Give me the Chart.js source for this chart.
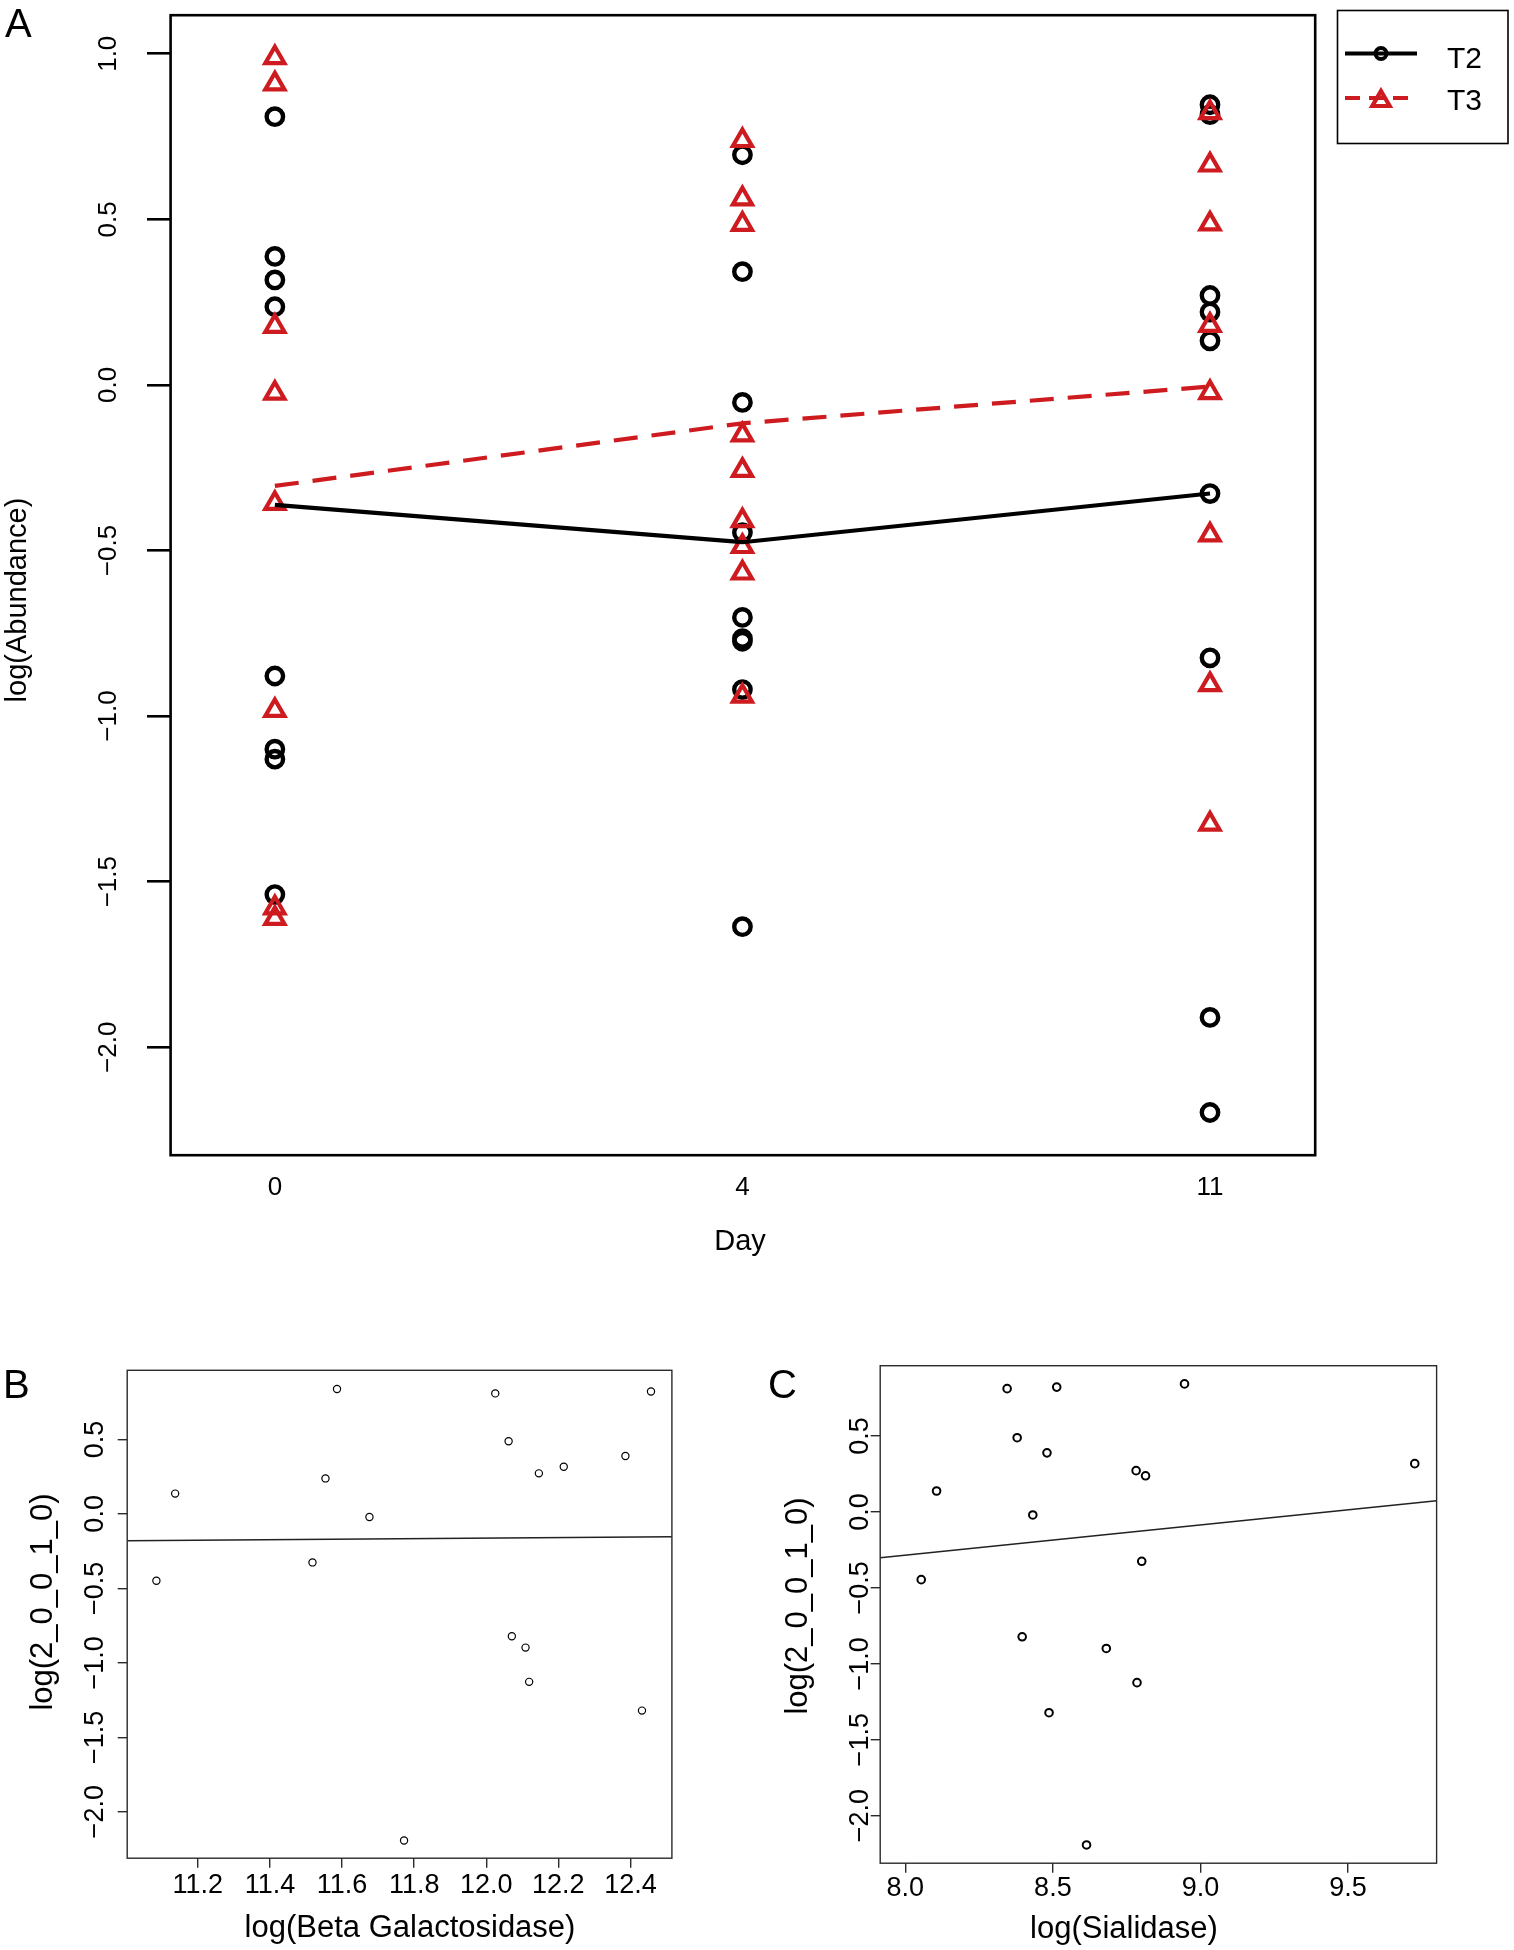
<!DOCTYPE html>
<html>
<head>
<meta charset="utf-8">
<script src="https://cdn.jsdelivr.net/npm/chart.js@4.4.1/dist/chart.umd.min.js"></script>
<style>
  html, body { margin: 0; padding: 0; background: #fff; }
  body { width: 1514px; height: 1950px; position: relative; overflow: hidden; }
  canvas { position: absolute; }
</style>
</head>
<body>
<canvas id="ca" width="1514" height="1300" style="left:0px;top:0px;width:1514px;height:1300px"></canvas>
<canvas id="cb" width="740" height="610" style="left:0px;top:1340px;width:740px;height:610px"></canvas>
<canvas id="cc" width="774" height="610" style="left:740px;top:1340px;width:774px;height:610px"></canvas>
<script>
// ---------- Panel A data ----------
const dayLabels = ['0', '4', '11'];
const dayPositions = [1, 2, 3];
const t2Day0  = [0.810, 0.388, 0.317, 0.236, -0.879, -1.100, -1.130, -1.539];
const t2Day4  = [0.695, 0.342, -0.053, -0.446, -0.702, -0.766, -0.774, -0.920, -1.636];
const t2Day11 = [0.846, 0.816, 0.270, 0.220, 0.133, -0.328, -0.824, -1.910, -2.197];
const t3Day0  = [0.988, 0.909, 0.177, -0.025, -0.358, -0.983, -1.579, -1.611];
const t3Day4  = [0.738, 0.562, 0.485, -0.151, -0.258, -0.410, -0.488, -0.568, -0.940];
const t3Day11 = [0.822, 0.664, 0.486, 0.180, -0.023, -0.453, -0.905, -1.326];
const t2Means = [-0.362, -0.475, -0.328];
const t3Means = [-0.305, -0.116, -0.005];
const seriesNames = ['T2', 'T3'];
const yTicksA = [-2.0, -1.5, -1.0, -0.5, 0.0, 0.5, 1.0];
const yTickLabelsA = ['\u22122.0', '\u22121.5', '\u22121.0', '\u22120.5', '0.0', '0.5', '1.0'];

// ---------- Panel B data ----------
const betaGalactosidase = [11.085, 11.137, 11.518, 11.554, 11.586, 11.676, 11.772, 12.025, 12.062, 12.071, 12.109, 12.119, 12.146, 12.215, 12.386, 12.432, 12.457];
const abundanceB = [-0.449, 0.136, -0.326, 0.238, 0.838, -0.021, -2.193, 0.809, 0.488, -0.822, -0.898, -1.128, 0.272, 0.316, 0.389, -1.321, 0.822];
const fitBx = [11.004, 12.515];
const fitBy = [-0.180, -0.154];
const xTicksB = [11.2, 11.4, 11.6, 11.8, 12.0, 12.2, 12.4];
const xTickLabelsB = ['11.2', '11.4', '11.6', '11.8', '12.0', '12.2', '12.4'];

// ---------- Panel C data ----------
const sialidase = [8.054, 8.106, 8.345, 8.379, 8.396, 8.432, 8.480, 8.487, 8.513, 8.614, 8.681, 8.782, 8.785, 8.801, 8.814, 8.946, 9.726];
const abundanceC = [-0.446, 0.138, 0.812, 0.489, -0.822, -0.020, 0.389, -1.322, 0.822, -2.193, -0.899, 0.272, -1.124, -0.325, 0.238, 0.843, 0.318];
const fitCx = [7.915, 9.800];
const fitCy = [-0.302, 0.074];
const xTicksC = [8.0, 8.5, 9.0, 9.5];
const xTickLabelsC = ['8.0', '8.5', '9.0', '9.5'];

// shared y ticks for B and C
const yTicksBC = [-2.0, -1.5, -1.0, -0.5, 0.0, 0.5];
const yTickLabelsBC = ['\u22122.0', '\u22121.5', '\u22121.0', '\u22120.5', '0.0', '0.5'];

const FONT = '"Liberation Sans", Arimo, Arial, sans-serif';
const RED = '#CD1B1F';

function rotText(ctx, txt, x, y) {
  ctx.save();
  ctx.translate(x, y);
  ctx.rotate(-Math.PI / 2);
  ctx.textAlign = 'center';
  ctx.textBaseline = 'alphabetic';
  ctx.fillText(txt, 0, 0);
  ctx.restore();
}
function fixTicks(values) {
  return function (scale) { scale.ticks = values.map(v => ({ value: v })); };
}
function pts(xs, ys) { return ys.map((y, i) => ({ x: xs[i], y: y })); }
function col(pos, ys) { return ys.map(y => ({ x: pos, y: y })); }

// ================= Panel A =================
const circleStyle = { pointStyle: 'circle', pointRadius: 8.2, pointBorderWidth: 4.4, borderWidth: 4.4, borderColor: '#000', pointBorderColor: '#000', backgroundColor: 'rgba(0,0,0,0)', pointBackgroundColor: 'rgba(0,0,0,0)', pointHoverRadius: 8.2 };
const triStyle = { pointStyle: 'triangle', pointRadius: 11, pointBorderWidth: 4.2, borderWidth: 4.2, borderColor: RED, pointBorderColor: RED, backgroundColor: 'rgba(0,0,0,0)', pointBackgroundColor: 'rgba(0,0,0,0)', pointHoverRadius: 11 };

const plugA = {
  id: 'decorA',
  afterDraw(chart) {
    const { ctx, chartArea: ca, scales } = chart;
    const xs = scales.x, ys = scales.y;
    ctx.save();
    ctx.strokeStyle = '#000';
    ctx.lineWidth = 2.6;
    ctx.strokeRect(ca.left, ca.top, ca.width, ca.height);
    ctx.fillStyle = '#000';
    ctx.font = '26px ' + FONT;
    yTicksA.forEach((v, i) => rotText(ctx, yTickLabelsA[i], 116, ys.getPixelForValue(v)));
    ctx.textAlign = 'center';
    ctx.textBaseline = 'alphabetic';
    dayPositions.forEach((p, i) => ctx.fillText(dayLabels[i], xs.getPixelForValue(p), 1195));
    ctx.font = '29px ' + FONT;
    ctx.fillText('Day', 740, 1250);
    rotText(ctx, 'log(Abundance)', 26, 600);
    ctx.font = '40px ' + FONT;
    ctx.textAlign = 'left';
    ctx.fillText('A', 5, 37);

    // legend
    ctx.lineWidth = 1.6;
    ctx.strokeRect(1337.5, 10.5, 170.5, 133);
    // T2
    ctx.lineWidth = 4;
    ctx.strokeStyle = '#000';
    ctx.beginPath(); ctx.moveTo(1345, 53.5); ctx.lineTo(1417, 53.5); ctx.stroke();
    ctx.lineWidth = 4;
    ctx.beginPath(); ctx.arc(1381, 53.5, 5.5, 0, Math.PI * 2); ctx.stroke();
    // T3
    ctx.strokeStyle = RED;
    ctx.lineWidth = 4;
    ctx.setLineDash([15, 9]);
    ctx.beginPath(); ctx.moveTo(1345, 98); ctx.lineTo(1417, 98); ctx.stroke();
    ctx.setLineDash([]);
    ctx.lineWidth = 4.2;
    const tx = 1381, ty = 101, r = 10;
    ctx.beginPath();
    ctx.moveTo(tx, ty - r);
    ctx.lineTo(tx + r * Math.sqrt(3) / 2, ty + r / 2);
    ctx.lineTo(tx - r * Math.sqrt(3) / 2, ty + r / 2);
    ctx.closePath();
    ctx.stroke();
    ctx.fillStyle = '#000';
    ctx.font = '30px ' + FONT;
    ctx.textAlign = 'left';
    ctx.fillText(seriesNames[0], 1447, 68);
    ctx.fillText(seriesNames[1], 1447, 110);
    ctx.restore();
  }
};

new Chart(document.getElementById('ca'), {
  type: 'scatter',
  data: {
    datasets: [
      { type: 'line', label: 'T2 mean', data: pts(dayPositions, t2Means), borderColor: '#000', borderWidth: 4.2, pointRadius: 0, fill: false, tension: 0, order: 0 },
      { type: 'line', label: 'T3 mean', data: pts(dayPositions, t3Means), borderColor: RED, borderWidth: 4.2, borderDash: [24, 14], pointRadius: 0, fill: false, tension: 0, order: 0 },
      Object.assign({ label: 'T3', data: [].concat(col(1, t3Day0), col(2, t3Day4), col(3, t3Day11)), order: 1 }, triStyle),
      Object.assign({ label: 'T2', data: [].concat(col(1, t2Day0), col(2, t2Day4), col(3, t2Day11)), order: 2 }, circleStyle)
    ]
  },
  options: {
    responsive: false,
    animation: false,
    devicePixelRatio: 1,
    layout: { padding: { left: 0, top: 10.3, right: 198.8, bottom: 0 } },
    plugins: { legend: { display: false }, tooltip: { enabled: false } },
    scales: {
      x: {
        type: 'linear', min: 0.777, max: 3.225,
        ticks: { display: false },
        grid: { display: false, drawTicks: false },
        border: { display: false },
        afterBuildTicks: fixTicks(dayPositions),
        afterFit(s) { s.height = 144.8; }
      },
      y: {
        type: 'linear', min: -2.326, max: 1.1164,
        ticks: { display: false },
        grid: { display: true, drawOnChartArea: false, drawTicks: true, tickLength: 23.6, color: '#000', lineWidth: 2.6 },
        border: { display: false },
        afterBuildTicks: fixTicks(yTicksA),
        afterFit(s) { s.width = 170.6; }
      }
    }
  },
  plugins: [plugA]
});

// ================= Panels B & C =================
function makeSmall(id, cfg) {
  const plug = {
    id: 'decor' + id,
    afterDraw(chart) {
      const { ctx, chartArea: ca, scales } = chart;
      ctx.save();
      ctx.strokeStyle = '#2a2a2a';
      ctx.lineWidth = 1.4;
      ctx.strokeRect(ca.left, ca.top, ca.width, ca.height);
      ctx.fillStyle = '#000';
      ctx.font = '27px ' + FONT;
      yTicksBC.forEach((v, i) => rotText(ctx, yTickLabelsBC[i], cfg.yLabX, scales.y.getPixelForValue(v)));
      ctx.textAlign = 'center';
      ctx.textBaseline = 'alphabetic';
      cfg.xTicks.forEach((v, i) => ctx.fillText(cfg.xTickLabels[i], scales.x.getPixelForValue(v), cfg.xLabY));
      ctx.font = '31px ' + FONT;
      ctx.fillText(cfg.xTitle, cfg.xTitleX, cfg.xTitleY);
      rotText(ctx, cfg.yTitle, cfg.yTitleX, cfg.yTitleY);
      ctx.font = '40px ' + FONT;
      ctx.textAlign = 'left';
      ctx.fillText(cfg.letter, cfg.letterX, 58);
      ctx.restore();
    }
  };
  new Chart(document.getElementById(id), {
    type: 'scatter',
    data: {
      datasets: [
        { label: 'points', data: pts(cfg.xs, cfg.ys), pointStyle: 'circle', pointRadius: cfg.ptR, pointBorderWidth: cfg.ptW, borderColor: '#000', pointBorderColor: '#000', backgroundColor: 'rgba(0,0,0,0)', pointBackgroundColor: 'rgba(0,0,0,0)', pointHoverRadius: cfg.ptR, order: 1 },
        { type: 'line', label: 'fit', data: pts(cfg.fitX, cfg.fitY), borderColor: '#222', borderWidth: 1.5, pointRadius: 0, fill: false, order: 0 }
      ]
    },
    options: {
      responsive: false,
      animation: false,
      devicePixelRatio: 1,
      layout: { padding: { left: 0, top: cfg.top, right: cfg.padRight, bottom: 0 } },
      plugins: { legend: { display: false }, tooltip: { enabled: false } },
      scales: {
        x: {
          type: 'linear', min: cfg.xMin, max: cfg.xMax,
          ticks: { display: false },
          grid: { display: true, drawOnChartArea: false, drawTicks: true, tickLength: 9.5, color: '#2a2a2a', lineWidth: 1.4 },
          border: { display: false },
          afterBuildTicks: fixTicks(cfg.xTicks),
          afterFit(s) { s.height = cfg.xH; }
        },
        y: {
          type: 'linear', min: cfg.yMin, max: cfg.yMax,
          ticks: { display: false },
          grid: { display: true, drawOnChartArea: false, drawTicks: true, tickLength: 9.5, color: '#2a2a2a', lineWidth: 1.4 },
          border: { display: false },
          afterBuildTicks: fixTicks(yTicksBC),
          afterFit(s) { s.width = cfg.yW; }
        }
      }
    },
    plugins: [plug]
  });
}

makeSmall('cb', {
  xs: betaGalactosidase, ys: abundanceB, fitX: fitBx, fitY: fitBy,
  xTicks: xTicksB, xTickLabels: xTickLabelsB,
  xMin: 11.004, xMax: 12.515, yMin: -2.312, yMax: 0.964,
  top: 30.3, padRight: 68.1, xH: 91.8, yW: 127.2,
  ptR: 3.6, ptW: 1.2,
  yLabX: 103.3, xLabY: 553, xTitle: 'log(Beta Galactosidase)', xTitleX: 410, xTitleY: 597,
  yTitle: 'log(2_0_0_1_0)', yTitleX: 51.5, yTitleY: 262, letter: 'B', letterX: 3
});

makeSmall('cc', {
  xs: sialidase, ys: abundanceC, fitX: fitCx, fitY: fitCy,
  xTicks: xTicksC, xTickLabels: xTickLabelsC,
  xMin: 7.915, xMax: 9.800, yMin: -2.313, yMax: 0.963,
  top: 25.7, padRight: 77.4, xH: 86.8, yW: 140.2,
  ptR: 3.8, ptW: 2,
  yLabX: 128.2, xLabY: 556, xTitle: 'log(Sialidase)', xTitleX: 384, xTitleY: 598,
  yTitle: 'log(2_0_0_1_0)', yTitleX: 66.5, yTitleY: 266, letter: 'C', letterX: 28
});
</script>
</body>
</html>
